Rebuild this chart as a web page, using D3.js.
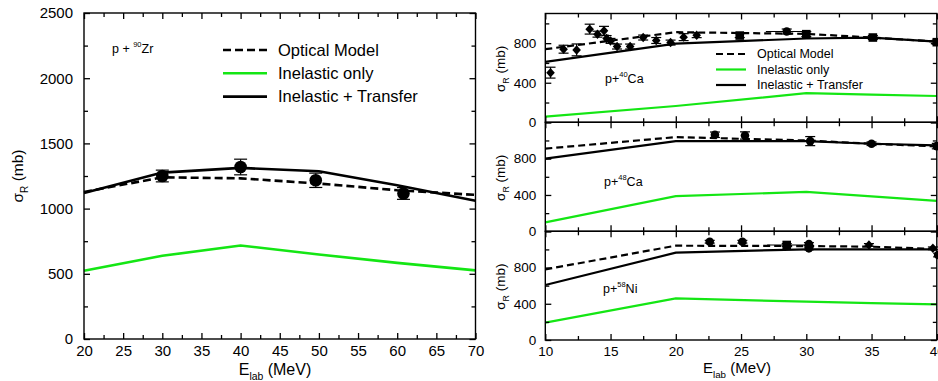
<!DOCTYPE html>
<html>
<head>
<meta charset="utf-8">
<script src="https://cdn.jsdelivr.net/npm/d3@7"></script>
<style>
body { margin: 0; background: #fff; }
svg { display: block; font-family: "Liberation Sans", Arial, Helvetica, sans-serif; }
.axis line { stroke: #000; stroke-width: 1.3; }
.axis text { fill: #000; }
</style>
</head>
<body>
<svg id="chart" width="938" height="381"></svg>
<script>
// ---- data ----
// left: p + 90Zr
const zrEnergy    = [20, 30, 40, 50, 60, 70];
const zrOptical   = [1128, 1240, 1232, 1192, 1141, 1105];
const zrInelastic = [523, 638, 717, 648, 584, 526];
const zrTransfer  = [1120, 1276, 1312, 1286, 1179, 1060];
const zrExpE      = [30.0, 40.0, 49.6, 60.8];
const zrExpSigma  = [1250, 1319, 1217, 1116];
const zrExpErr    = [45, 60, 55, 45];

// right panels share the calculation energies
const calcEnergy = [10, 20, 30, 35, 40];

const ca40Optical   = [739, 911, 894, 857, 816];
const ca40Inelastic = [57, 165, 294, 280, 266];
const ca40Transfer  = [611, 796, 847, 857, 816];
const ca40ExpE     = [10.4, 11.4, 12.4, 13.4, 14.0, 14.5, 14.7, 15.0, 15.5, 16.5, 17.5, 18.5, 19.6, 20.6, 21.6, 24.9, 28.5, 30.0, 35.1, 40.0];
const ca40ExpSigma = [502, 739, 732, 942, 891, 925, 847, 823, 766, 766, 857, 827, 806, 861, 881, 877, 918, 891, 857, 810];
const ca40ExpErr   = [55, 40, 60, 50, 30, 45, 30, 25, 25, 25, 25, 30, 25, 35, 25, 20, 25, 25, 20, 20];
const ca40ExpXErr  = [0, 0, 0, 0, 0, 0, 0, 0, 0, 0, 0, 0, 0, 0, 0, 0, 1.6, 0, 0, 0];
const ca40ExpShape = ["d", "d", "d", "d", "d", "d", "d", "d", "d", "d", "d", "d", "d", "d", "d", "s", "c", "s", "s", "s"];

const ca48Optical   = [910, 1037, 1000, 964, 935];
const ca48Inelastic = [99, 387, 434, 385, 335];
const ca48Transfer  = [800, 993, 993, 964, 946];
const ca48ExpE     = [23.0, 25.3, 30.3, 35.0, 40.0];
const ca48ExpSigma = [1063, 1055, 993, 964, 938];
const ca48ExpErr   = [30, 40, 50, 20, 30];
const ca48ExpXErr  = [0, 0, 0, 0, 0];
const ca48ExpShape = ["c", "c", "c", "c", "c"];

const ni58Optical   = [780, 1041, 1037, 1030, 1004];
const ni58Inelastic = [191, 460, 423, 408, 394];
const ni58Transfer  = [607, 964, 1001, 1001, 1001];
const ni58ExpE     = [22.6, 25.1, 28.5, 30.2, 30.2, 34.8, 39.7, 40.1];
const ni58ExpSigma = [1085, 1085, 1049, 1060, 1012, 1049, 1012, 938];
const ni58ExpErr   = [15, 15, 15, 15, 15, 15, 15, 20];
const ni58ExpXErr  = [0, 0, 1.5, 0, 0, 0, 0, 0];
const ni58ExpShape = ["c", "c", "s", "c", "c", "d", "d", "c"];

const legendLabels = ["Optical Model", "Inelastic only", "Inelastic + Transfer"];

const GREEN = "#14e614";
const svg = d3.select("#chart");

// draws ticks of one side; domain line is drawn by the frame rect
function ticks(g, axisFn, scale, values, size, pad, fmt, tr) {
  g.append("g").attr("class", "axis").attr("transform", tr)
    .call(axisFn(scale).tickValues(values).tickSizeInner(-size).tickSizeOuter(0)
      .tickPadding(pad).tickFormat(fmt))
    .call(a => a.select(".domain").remove());
}

function frame(g, x, y, o) {
  const [x0, x1] = x.range(), [y0, y1] = y.range();
  const none = () => "";
  const isMaj = (v, step) => Math.abs(v / step - Math.round(v / step)) < 1e-6;
  const xMaj = o.xTicks.filter(v => isMaj(v, o.xStep)), xMin = o.xTicks.filter(v => !isMaj(v, o.xStep));
  const yMaj = o.yTicks.filter(v => isMaj(v, o.yStep)), yMin = o.yTicks.filter(v => !isMaj(v, o.yStep));
  const yFmt = v => v <= o.yLabelMax ? d3.format("d")(v) : "";

  ticks(g, d3.axisBottom, x, xMaj, 6, o.xPad, o.xLabels ? d3.format("d") : none, `translate(0,${y0})`);
  ticks(g, d3.axisBottom, x, xMin, 4, 0, none, `translate(0,${y0})`);
  ticks(g, d3.axisTop, x, xMaj, 6, 0, none, `translate(0,${y1})`);
  ticks(g, d3.axisTop, x, xMin, 4, 0, none, `translate(0,${y1})`);
  ticks(g, d3.axisLeft, y, yMaj, 6, o.yPad, yFmt, `translate(${x0},0)`);
  ticks(g, d3.axisLeft, y, yMin, 4, 0, none, `translate(${x0},0)`);
  ticks(g, d3.axisRight, y, yMaj, 6, 0, none, `translate(${x1},0)`);
  ticks(g, d3.axisRight, y, yMin, 4, 0, none, `translate(${x1},0)`);
  g.selectAll(".axis text").style("font-size", o.font + "px");

  g.append("rect").attr("x", x0).attr("y", y1).attr("width", x1 - x0).attr("height", y0 - y1)
    .attr("fill", "none").attr("stroke", "#000").attr("stroke-width", 1.4);
}

function curves(g, x, y, E, opt, inel, trans, w, dash) {
  const line = d3.line().x((d, i) => x(E[i])).y(d => y(d));
  g.append("path").datum(inel).attr("d", line).attr("fill", "none").attr("stroke", GREEN).attr("stroke-width", w);
  g.append("path").datum(trans).attr("d", line).attr("fill", "none").attr("stroke", "#000").attr("stroke-width", w);
  g.append("path").datum(opt).attr("d", line).attr("fill", "none").attr("stroke", "#000")
    .attr("stroke-width", w).attr("stroke-dasharray", dash);
}

function marker(shape, r) {
  if (shape === "d") return `M0,${-r * 1.1}L${r},0L0,${r * 1.1}L${-r},0Z`;
  if (shape === "s") return `M${-r},${-r}H${r}V${r}H${-r}Z`;
  return d3.symbol(d3.symbolCircle, Math.PI * r * r)();
}

function points(g, x, y, E, S, err, xerr, shape, r, cap) {
  E.forEach((e, i) => {
    const cx = x(e), cy = y(S[i]);
    const p = g.append("g").attr("stroke", "#000").attr("stroke-width", 1.2);
    if (err[i] > 0) {
      const t = y(S[i] + err[i]), b = y(S[i] - err[i]);
      p.append("line").attr("x1", cx).attr("x2", cx).attr("y1", t).attr("y2", b);
      p.append("line").attr("x1", cx - cap).attr("x2", cx + cap).attr("y1", t).attr("y2", t);
      p.append("line").attr("x1", cx - cap).attr("x2", cx + cap).attr("y1", b).attr("y2", b);
    }
    if (xerr[i] > 0) {
      p.append("line").attr("x1", x(e - xerr[i])).attr("x2", x(e + xerr[i])).attr("y1", cy).attr("y2", cy);
    }
    g.append("path").attr("d", marker(shape[i], r)).attr("transform", `translate(${cx},${cy})`).attr("fill", "#000");
  });
}

function sigmaTitle(g, cx, cy, size) {
  const t = g.append("text").attr("transform", `translate(${cx},${cy}) rotate(-90)`)
    .attr("text-anchor", "middle").style("font-size", size + "px");
  t.append("tspan").text("\u03c3");
  t.append("tspan").attr("dy", size * 0.3).style("font-size", size * 0.65 + "px").text("R");
  t.append("tspan").attr("dy", -size * 0.3).text(" (mb)");
}

function energyTitle(g, cx, cy, size) {
  const t = g.append("text").attr("x", cx).attr("y", cy).attr("text-anchor", "middle").style("font-size", size + "px");
  t.append("tspan").text("E");
  t.append("tspan").attr("dy", size * 0.3).style("font-size", size * 0.65 + "px").text("lab");
  t.append("tspan").attr("dy", -size * 0.3).text(" (MeV)");
}

function nucleus(g, x0, y0, size, pre, mass, sym) {
  const t = g.append("text").attr("x", x0).attr("y", y0).style("font-size", size + "px");
  t.append("tspan").text(pre);
  t.append("tspan").attr("dy", -size * 0.45).style("font-size", size * 0.6 + "px").text(mass);
  t.append("tspan").attr("dy", size * 0.45).text(sym);
}

function legend(g, x0, y0, dy, len, size, w, dash) {
  const styles = [{ c: "#000", d: dash }, { c: GREEN, d: null }, { c: "#000", d: null }];
  legendLabels.forEach((lab, i) => {
    const yy = y0 + i * dy;
    g.append("line").attr("x1", x0).attr("x2", x0 + len).attr("y1", yy).attr("y2", yy)
      .attr("stroke", styles[i].c).attr("stroke-width", w).attr("stroke-dasharray", styles[i].d);
    g.append("text").attr("x", x0 + len + 11).attr("y", yy).attr("dy", "0.35em")
      .style("font-size", size + "px").text(lab);
  });
}

// ---- left panel ----
const L = svg.append("g");
const xL = d3.scaleLinear().domain([20, 70]).range([84, 475.5]);
const yL = d3.scaleLinear().domain([0, 2500]).range([339, 13]);
curves(L, xL, yL, zrEnergy, zrOptical, zrInelastic, zrTransfer, 2.6, "8,4");
points(L, xL, yL, zrExpE, zrExpSigma, zrExpErr, zrExpE.map(() => 0), zrExpE.map(() => "c"), 6.3, 6.5);
frame(L, xL, yL, { xTicks: d3.range(20, 70.01, 2.5), xStep: 5, yTicks: d3.range(0, 2500.01, 250), yStep: 500,
  xPad: 6, yPad: 11, xLabels: true, font: 15, yLabelMax: 2500 });
legend(L, 223, 50, 23.3, 44, 16.5, 2.6, "8,4");
nucleus(L, 112, 53, 12.5, "p + ", "90", "Zr");
sigmaTitle(L, 23, 176, 15.5);
energyTitle(L, 275, 375, 16);

// ---- right panels ----
const xR = d3.scaleLinear().domain([10, 40]).range([545.3, 936.8]);
const panels = [
  { top: 13.5, bot: 122.3, max: 1100, opt: ca40Optical, inel: ca40Inelastic, tr: ca40Transfer,
    E: ca40ExpE, S: ca40ExpSigma, err: ca40ExpErr, xerr: ca40ExpXErr, shape: ca40ExpShape,
    mass: "40", sym: "Ca", lx: 605, ly: 82.7 },
  { top: 122.3, bot: 231.3, max: 1200, opt: ca48Optical, inel: ca48Inelastic, tr: ca48Transfer,
    E: ca48ExpE, S: ca48ExpSigma, err: ca48ExpErr, xerr: ca48ExpXErr, shape: ca48ExpShape,
    mass: "48", sym: "Ca", lx: 604, ly: 185.7 },
  { top: 231.3, bot: 340, max: 1200, opt: ni58Optical, inel: ni58Inelastic, tr: ni58Transfer,
    E: ni58ExpE, S: ni58ExpSigma, err: ni58ExpErr, xerr: ni58ExpXErr, shape: ni58ExpShape,
    mass: "58", sym: "Ni", lx: 603, ly: 293 }
];
panels.forEach((p, k) => {
  const g = svg.append("g");
  const y = d3.scaleLinear().domain([0, p.max]).range([p.bot, p.top]);
  curves(g, xR, y, calcEnergy, p.opt, p.inel, p.tr, 2.2, "7,4");
  points(g, xR, y, p.E, p.S, p.err, p.xerr, p.shape, 4.3, 5);
  frame(g, xR, y, { xTicks: d3.range(10, 40.01, 2.5), xStep: 5, yTicks: d3.range(0, p.max + 0.01, 200), yStep: 400,
    xPad: 6.5, yPad: 9, xLabels: k === 2, font: 13.5, yLabelMax: 800 });
  nucleus(g, p.lx, p.ly, 12.5, "p+", p.mass, p.sym);
  sigmaTitle(g, 505, (p.top + p.bot) / 2 + 1, 13.5);
});
legend(svg.append("g"), 716, 54, 15.5, 30, 12.5, 2.2, "7,4");
energyTitle(svg, 737, 373, 15);
</script>
</body>
</html>
